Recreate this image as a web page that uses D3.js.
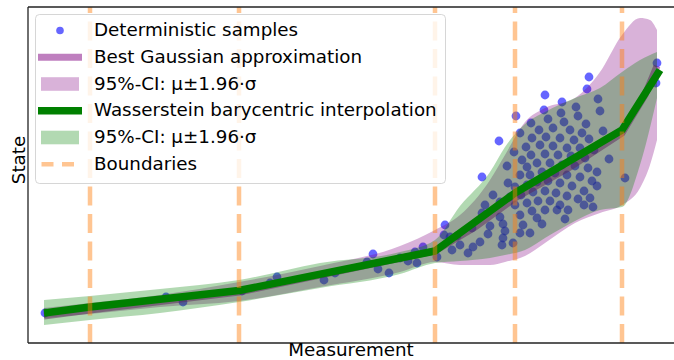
<!DOCTYPE html>
<html><head><meta charset="utf-8">
<script src="https://cdn.jsdelivr.net/npm/d3@7"></script>
<style>body{margin:0;background:#fff}svg{display:block;font-family:"DejaVu Sans",sans-serif}</style>
</head><body><svg id="c" width="674" height="360"></svg>
<script>
// ---------- data ----------
const boundaries = [0.90, 2.39, 4.35, 5.15, 6.22];

const wassX    = [0.44, 0.90, 2.39, 4.35, 5.15, 6.22, 6.60];
const wassMean = [0.47, 0.53, 0.695, 1.09, 1.67, 2.30, 2.90];

const gaussX    = [0.44, 0.90, 2.39, 4.35, 4.75, 5.15, 5.70, 6.22, 6.45, 6.57];
const gaussMean = [0.44, 0.50, 0.68, 1.09, 1.33, 1.62, 1.93, 2.27, 2.65, 2.94];

const wassBandX  = [0.44,0.90,1.60,2.39,3.20,4.00,4.35,4.60,4.90,5.05,5.25,5.45,5.75,6.00,6.22,6.40,6.57];
const wassBandHi = [0.60,0.64,0.71,0.80,0.97,1.08,1.20,1.54,1.88,2.13,2.36,2.48,2.62,2.72,2.88,3.00,3.08];
const wassBandLo = [0.35,0.40,0.47,0.58,0.72,0.86,0.97,0.99,1.02,1.05,1.10,1.22,1.39,1.50,1.53,1.95,2.62];

const gaussBandX  = [0.44,0.90,1.60,2.39,3.20,4.00,4.35,4.60,4.90,5.05,5.25,5.45,5.75,6.00,6.22,6.40,6.50,6.57];
const gaussBandHi = [0.52,0.57,0.65,0.78,0.94,1.14,1.30,1.45,1.80,2.05,2.38,2.52,2.62,2.88,3.25,3.42,3.40,3.30];
const gaussBandLo = [0.42,0.46,0.53,0.59,0.73,0.88,0.98,0.95,0.95,0.98,1.04,1.17,1.37,1.47,1.55,1.72,1.95,2.20];

const sampleX = [
 0.45,1.66,1.83,2.42,2.70,2.77,3.24,3.35,3.67,3.73,3.78,3.89,4.00,4.08,4.17,4.15,4.23,4.37,4.45,
 5.89,5.87,5.45,5.62,5.44,5.16,5.31,5.20,4.99,4.82,6.57,6.56,6.25,6.09,6.03,6.00,5.98,5.76,
 5.61,5.48,5.64,5.78,5.86,5.39,5.53,5.70,5.82,5.32,5.46,5.60,5.74,5.89,5.26,5.40,5.53,5.67,5.80,5.94,
 5.22,5.31,5.45,5.58,5.71,5.85,5.14,5.07,5.27,5.37,5.50,5.62,5.75,5.88,5.97,5.20,5.30,5.42,5.55,5.67,
 5.80,5.92,5.97,5.15,5.27,5.37,5.48,5.60,5.72,5.84,5.90,5.93,5.08,5.10,5.21,5.33,5.45,5.56,5.67,5.78,
 5.84,5.00,5.15,5.27,5.38,5.50,5.60,5.68,5.65,5.57,5.45,5.32,5.20,5.37,5.42,5.23,5.30,5.13,5.20,5.00,
 5.03,5.05,5.03,5.02,4.93,4.82,4.90,4.88,4.80,4.73,4.68,4.60,4.52,4.50,4.44,4.57,4.72,4.85
];
const sampleY = [
 0.47,0.63,0.58,0.69,0.77,0.83,0.80,0.87,0.98,1.06,0.91,0.87,1.02,0.99,0.97,1.08,1.13,1.03,1.35,
 2.83,2.71,2.65,2.58,2.50,2.44,2.37,2.27,2.19,1.83,2.97,2.77,1.82,2.01,2.29,2.49,2.61,2.53,
 2.47,2.41,2.38,2.44,2.36,2.30,2.32,2.30,2.27,2.22,2.23,2.22,2.20,2.21,2.13,2.15,2.14,2.12,2.12,2.10,
 2.00,2.05,2.06,2.05,2.04,2.02,2.08,1.94,1.93,1.97,1.97,1.95,1.94,1.92,1.88,1.85,1.85,1.88,1.87,1.85,
 1.83,1.79,1.74,1.73,1.75,1.78,1.79,1.77,1.74,1.69,1.62,1.53,1.77,1.63,1.65,1.68,1.69,1.67,1.64,1.61,
 1.55,1.58,1.55,1.57,1.59,1.59,1.55,1.50,1.41,1.50,1.50,1.49,1.45,1.42,1.36,1.35,1.27,1.17,1.27,1.43,
 1.36,1.29,1.22,1.15,1.65,1.47,1.34,1.26,1.18,1.13,1.07,1.15,1.10,1.23,1.25,1.24,1.32,1.55
];

const legendLabels = ["Deterministic samples","Best Gaussian approximation","95%-CI: \u03bc\u00b11.96\u00b7\u03c3",
  "Wasserstein barycentric interpolation","95%-CI: \u03bc\u00b11.96\u00b7\u03c3","Boundaries"];
const axisLabels = {x: "Measurement", y: "State"};

// ---------- drawing ----------
const svg = d3.select("#c");
const L = 28, R = 690, T = 7, B = 343;
const FS = 18.3;
const x = d3.scaleLinear().domain([0.28, 6.90]).range([L, R]);
const y = d3.scaleLinear().domain([0.17, 3.53]).range([B, T]);

svg.append("defs").append("clipPath").attr("id","clip")
  .append("rect").attr("x",L).attr("y",T).attr("width",R-L).attr("height",B-T);
const g = svg.append("g").attr("clip-path","url(#clip)");

const PURPLE = "#800080", GREEN = "#008000", BLUE = "#0000ff", ORANGE = "#ff7f0e";

// samples
g.append("g").selectAll("circle").data(sampleX.map((v,i)=>[v,sampleY[i]])).join("circle")
  .attr("cx",d=>x(d[0])).attr("cy",d=>y(d[1])).attr("r",4.4)
  .attr("fill",BLUE).attr("fill-opacity",0.6);

const line = d3.line().x(d=>x(d[0])).y(d=>y(d[1]));
const area = d3.area().x(d=>x(d[0])).y0(d=>y(d[1])).y1(d=>y(d[2])).curve(d3.curveMonotoneX);

// gaussian mean line
g.append("path").attr("d", line(gaussX.map((v,i)=>[v,gaussMean[i]])))
  .attr("fill","none").attr("stroke",PURPLE).attr("stroke-opacity",0.5).attr("stroke-width",7);
// bands
g.append("path").attr("d", area(gaussBandX.map((v,i)=>[v,gaussBandLo[i],gaussBandHi[i]])))
  .attr("fill",PURPLE).attr("fill-opacity",0.3);
g.append("path").attr("d", area(wassBandX.map((v,i)=>[v,wassBandLo[i],wassBandHi[i]])))
  .attr("fill",GREEN).attr("fill-opacity",0.3);
// wasserstein line
g.append("path").attr("d", line(wassX.map((v,i)=>[v,wassMean[i]])))
  .attr("fill","none").attr("stroke",GREEN).attr("stroke-width",7.5).attr("stroke-linejoin","round");
// boundaries
g.append("g").selectAll("line").data(boundaries).join("line")
  .attr("x1",d=>x(d)).attr("x2",d=>x(d)).attr("y1",B).attr("y2",T)
  .attr("stroke",ORANGE).attr("stroke-opacity",0.45).attr("stroke-width",4.5)
  .attr("stroke-dasharray","19,8.5");

// spines
svg.append("line").attr("x1",L).attr("x2",L).attr("y1",T).attr("y2",B).attr("stroke","#222").attr("stroke-width",1.3);
svg.append("line").attr("x1",L).attr("x2",R).attr("y1",B).attr("y2",B).attr("stroke","#222").attr("stroke-width",1.3);
svg.append("line").attr("x1",L).attr("x2",R).attr("y1",T).attr("y2",T).attr("stroke","#222").attr("stroke-width",1.3);

// axis labels
svg.append("text").attr("x",351).attr("y",356).attr("text-anchor","middle")
  .attr("font-size",FS).attr("fill","#000").text(axisLabels.x);
svg.append("text").attr("transform",`translate(25,160) rotate(-90)`).attr("text-anchor","middle")
  .attr("font-size",FS).attr("fill","#000").text(axisLabels.y);

// legend
const lg = svg.append("g");
lg.append("rect").attr("x",35.5).attr("y",14.5).attr("width",410).attr("height",169).attr("rx",4)
  .attr("fill","#fff").attr("fill-opacity",0.8).attr("stroke","#ccc").attr("stroke-opacity",0.8);
const rowY = i => 30.5 + i*26.75;
const hx0 = 38, hx1 = 82;
lg.append("circle").attr("cx",60).attr("cy",rowY(0)).attr("r",3.8).attr("fill",BLUE).attr("fill-opacity",0.6);
lg.append("line").attr("x1",hx0).attr("x2",hx1).attr("y1",rowY(1)).attr("y2",rowY(1))
  .attr("stroke",PURPLE).attr("stroke-opacity",0.5).attr("stroke-width",7);
lg.append("rect").attr("x",41).attr("y",rowY(2)-6.8).attr("width",38).attr("height",13.6)
  .attr("fill",PURPLE).attr("fill-opacity",0.3);
lg.append("line").attr("x1",hx0).attr("x2",hx1).attr("y1",rowY(3)).attr("y2",rowY(3))
  .attr("stroke",GREEN).attr("stroke-width",7.5);
lg.append("rect").attr("x",41).attr("y",rowY(4)-6.8).attr("width",38).attr("height",13.6)
  .attr("fill",GREEN).attr("fill-opacity",0.3);
lg.append("line").attr("x1",41.5).attr("x2",78.5).attr("y1",rowY(5)).attr("y2",rowY(5))
  .attr("stroke",ORANGE).attr("stroke-opacity",0.45).attr("stroke-width",4.5).attr("stroke-dasharray","12,8.5");
lg.selectAll("text.l").data(legendLabels).join("text").attr("class","l")
  .attr("x",94).attr("y",(d,i)=>rowY(i)+5.5).attr("font-size",FS).attr("fill","#000").text(d=>d);
</script>
</body></html>
